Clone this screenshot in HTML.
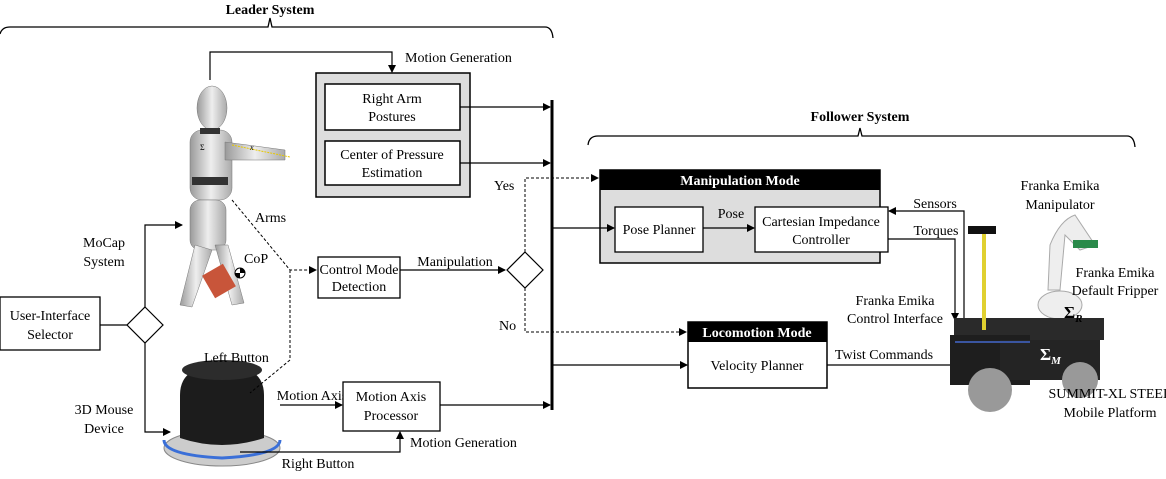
<!DOCTYPE html>
<html><head><meta charset="utf-8"><style>
body{margin:0;background:#fff}
svg{display:block;font-family:"Liberation Serif",serif}
text{font-size:14px;fill:#000}
.b{font-weight:bold}
</style></head><body>
<svg width="1166" height="479" viewBox="0 0 1166 479">
<defs>
<marker id="a" markerWidth="8" markerHeight="8" refX="7" refY="4" orient="auto" markerUnits="userSpaceOnUse"><path d="M0,0 L8,4 L0,8z" fill="#000"/></marker>
<linearGradient id="g" x1="0" x2="1"><stop offset="0" stop-color="#9a9a9a"/><stop offset="0.5" stop-color="#eee"/><stop offset="1" stop-color="#aaa"/></linearGradient>
</defs>
<text x="270" y="14" text-anchor="middle" class="b">Leader System</text>
<path d="M0,34 Q2,27 10,27 L268,27 L270,18 L272,27 L545,27 Q552,27 553,38" fill="none" stroke="#000" stroke-width="1.3"/>
<text x="860" y="121" text-anchor="middle" class="b">Follower System</text>
<path d="M588,145 Q589,136 598,136 L858,136 L860,128 L862,136 L1127,136 Q1134,136 1135,147" fill="none" stroke="#000" stroke-width="1.3"/>

<g fill="url(#g)" stroke="#777" stroke-width="0.5">
<ellipse cx="212" cy="108" rx="15" ry="22"/>
<rect x="190" y="130" width="42" height="70" rx="12"/>
<path d="M225,142 L285,150 L285,160 L225,160z"/>
<rect x="190" y="200" width="36" height="50" rx="10"/>
<path d="M195,245 L180,305 L192,307 L212,250z"/>
<path d="M215,245 L232,305 L244,303 L228,245z"/>
</g>
<rect x="192" y="177" width="36" height="8" fill="#333"/>
<rect x="200" y="128" width="20" height="6" fill="#333"/>
<path d="M232,145 L290,157" stroke="#e8c800" stroke-width="1" stroke-dasharray="2,1"/>
<text x="250" y="150" style="font-size:8px;font-style:italic">x</text>
<text x="200" y="150" style="font-size:8px">Σ</text>
<rect x="207" y="268" width="24" height="26" fill="#c8553a" transform="rotate(-30 219 281)"/>
<circle cx="240" cy="273" r="5" fill="#fff" stroke="#000"/><path d="M240,268 A5,5 0 0 1 245,273 L240,273z M240,278 A5,5 0 0 1 235,273 L240,273z" fill="#000"/>
<text x="244" y="263">CoP</text>

<ellipse cx="222" cy="448" rx="58" ry="18" fill="#ccc" stroke="#888"/>
<path d="M164,440 Q164,455 222,458 Q280,455 280,440" stroke="#3a6fd8" stroke-width="3" fill="none"/>
<path d="M180,438 L180,395 Q180,365 222,365 Q264,365 264,395 L264,438 Q222,452 180,438z" fill="#1c1c1c"/>
<ellipse cx="222" cy="370" rx="40" ry="10" fill="#2c2c2c"/>

<polyline points="210,80 210,52 392,52 392,72" fill="none" stroke="#000" stroke-width="1.2" marker-end="url(#a)"/>
<text x="405" y="62">Motion Generation</text>
<rect x="316" y="73" width="154" height="124" fill="#ddd" stroke="#000" stroke-width="1.5"/>
<rect x="325" y="84" width="135" height="46" fill="#fff" stroke="#000" stroke-width="1.5"/>
<text x="392" y="103" text-anchor="middle">Right Arm</text><text x="392" y="121" text-anchor="middle">Postures</text>
<rect x="325" y="141" width="135" height="44" fill="#fff" stroke="#000" stroke-width="1.5"/>
<text x="392" y="159" text-anchor="middle">Center of Pressure</text><text x="392" y="177" text-anchor="middle">Estimation</text>
<line x1="460" y1="107" x2="550" y2="107" stroke="#000" stroke-width="1.2" marker-end="url(#a)"/>
<line x1="460" y1="163" x2="550" y2="163" stroke="#000" stroke-width="1.2" marker-end="url(#a)"/>
<line x1="552" y1="100" x2="552" y2="410" stroke="#000" stroke-width="3"/>

<rect x="318" y="257" width="82" height="41" fill="#fff" stroke="#000" stroke-width="1.3"/>
<text x="359" y="274" text-anchor="middle">Control Mode</text><text x="359" y="291" text-anchor="middle">Detection</text>
<line x1="400" y1="270" x2="505" y2="270" stroke="#000" stroke-width="1.2" marker-end="url(#a)"/>
<text x="455" y="266" text-anchor="middle">Manipulation</text>
<path d="M525,252 L543,270 L525,288 L507,270z" fill="#fff" stroke="#000" stroke-width="1.2"/>
<polyline points="525,252 525,178 598,178" fill="none" stroke="#000" stroke-dasharray="3,2" marker-end="url(#a)"/>
<text x="494" y="190">Yes</text>
<polyline points="525,288 525,332 686,332" fill="none" stroke="#000" stroke-dasharray="3,2" marker-end="url(#a)"/>
<text x="499" y="330">No</text>
<polyline points="232,200 290,270 316,270" fill="none" stroke="#000" stroke-dasharray="3,2" marker-end="url(#a)"/>
<polyline points="290,270 290,360 250,393" fill="none" stroke="#000" stroke-dasharray="3,2"/>
<text x="255" y="222">Arms</text>
<text x="204" y="362">Left Button</text>

<rect x="0" y="297" width="100" height="53" fill="#fff" stroke="#000" stroke-width="1.3"/>
<text x="50" y="320" text-anchor="middle">User-Interface</text><text x="50" y="339" text-anchor="middle">Selector</text>
<line x1="100" y1="325" x2="127" y2="325" stroke="#000" stroke-width="1.2"/>
<path d="M145,307 L163,325 L145,343 L127,325z" fill="#fff" stroke="#000" stroke-width="1.2"/>
<polyline points="145,307 145,225 182,225" fill="none" stroke="#000" stroke-width="1.2" marker-end="url(#a)"/>
<text x="104" y="247" text-anchor="middle">MoCap</text><text x="104" y="266" text-anchor="middle">System</text>
<polyline points="145,343 145,432 170,432" fill="none" stroke="#000" stroke-width="1.2" marker-end="url(#a)"/>
<text x="104" y="414" text-anchor="middle">3D Mouse</text><text x="104" y="433" text-anchor="middle">Device</text>

<line x1="280" y1="405" x2="342" y2="405" stroke="#000" stroke-width="1.2" marker-end="url(#a)"/>
<text x="312" y="400" text-anchor="middle">Motion Axis</text>
<rect x="343" y="382" width="97" height="49" fill="#fff" stroke="#000" stroke-width="1.3"/>
<text x="391" y="401" text-anchor="middle">Motion Axis</text><text x="391" y="420" text-anchor="middle">Processor</text>
<line x1="440" y1="405" x2="550" y2="405" stroke="#000" stroke-width="1.2" marker-end="url(#a)"/>
<polyline points="240,452 400,452 400,432" fill="none" stroke="#000" stroke-width="1.2" marker-end="url(#a)"/>
<text x="318" y="468" text-anchor="middle">Right Button</text>
<text x="410" y="447">Motion Generation</text>

<rect x="600" y="170" width="280" height="93" fill="#ddd" stroke="#000" stroke-width="1.5"/>
<rect x="600" y="170" width="280" height="20" fill="#000"/>
<text x="740" y="185" text-anchor="middle" class="b" style="fill:#fff">Manipulation Mode</text>
<line x1="552" y1="228" x2="614" y2="228" stroke="#000" stroke-width="1.2" marker-end="url(#a)"/>
<rect x="615" y="207" width="88" height="45" fill="#fff" stroke="#000" stroke-width="1.3"/>
<text x="659" y="234" text-anchor="middle">Pose Planner</text>
<line x1="703" y1="228" x2="754" y2="228" stroke="#000" stroke-width="1.2" marker-end="url(#a)"/>
<text x="731" y="218" text-anchor="middle">Pose</text>
<rect x="755" y="207" width="133" height="45" fill="#fff" stroke="#000" stroke-width="1.3"/>
<text x="821" y="226" text-anchor="middle">Cartesian Impedance</text><text x="821" y="244" text-anchor="middle">Controller</text>
<polyline points="964,322 964,211 889,211" fill="none" stroke="#000" stroke-width="1.2" marker-end="url(#a)"/>
<text x="935" y="208" text-anchor="middle">Sensors</text>
<polyline points="888,239 955,239 955,320" fill="none" stroke="#000" stroke-width="1.2" marker-end="url(#a)"/>
<text x="936" y="235" text-anchor="middle">Torques</text>

<rect x="688" y="322" width="139" height="66" fill="#fff" stroke="#000" stroke-width="1.5"/>
<rect x="688" y="322" width="139" height="20" fill="#000"/>
<text x="757" y="337" text-anchor="middle" class="b" style="fill:#fff">Locomotion Mode</text>
<text x="757" y="370" text-anchor="middle">Velocity Planner</text>
<line x1="552" y1="365" x2="687" y2="365" stroke="#000" stroke-width="1.2" marker-end="url(#a)"/>
<line x1="827" y1="365" x2="960" y2="365" stroke="#000" stroke-width="1.2" marker-end="url(#a)"/>
<text x="884" y="359" text-anchor="middle">Twist Commands</text>

<path d="M1050,245 Q1060,220 1075,215 L1095,245 L1080,250 L1065,235 L1060,290 L1048,290z" fill="#eee" stroke="#aaa"/>
<ellipse cx="1060" cy="305" rx="22" ry="14" fill="#eee" stroke="#aaa"/>
<rect x="1073" y="240" width="25" height="8" fill="#2a8a4a"/>
<rect x="954" y="318" width="150" height="22" fill="#2a2a2a"/>
<rect x="950" y="335" width="80" height="50" fill="#1e1e1e"/>
<rect x="1000" y="340" width="100" height="40" fill="#242424"/>
<line x1="955" y1="342" x2="1030" y2="342" stroke="#3a55a0" stroke-width="2"/>
<ellipse cx="990" cy="390" rx="22" ry="22" fill="#999"/>
<ellipse cx="1080" cy="380" rx="18" ry="18" fill="#999"/>
<rect x="982" y="230" width="4" height="100" fill="#e0d030"/>
<rect x="968" y="226" width="28" height="8" fill="#111"/>
<text x="1060" y="190" text-anchor="middle">Franka Emika</text><text x="1060" y="209" text-anchor="middle">Manipulator</text>
<text x="1115" y="277" text-anchor="middle">Franka Emika</text><text x="1115" y="295" text-anchor="middle">Default Fripper</text>
<text x="895" y="305" text-anchor="middle">Franka Emika</text><text x="895" y="323" text-anchor="middle">Control Interface</text>
<text x="1064" y="318" class="b" style="font-size:17px">Σ<tspan style="font-size:11px;font-style:italic" dy="4">R</tspan></text>
<text x="1040" y="360" class="b" style="font-size:17px;fill:#fff">Σ<tspan style="font-size:11px;font-style:italic" dy="4">M</tspan></text>
<text x="1110" y="398" text-anchor="middle">SUMMIT-XL STEEL</text><text x="1110" y="417" text-anchor="middle">Mobile Platform</text>
</svg>
</body></html>
